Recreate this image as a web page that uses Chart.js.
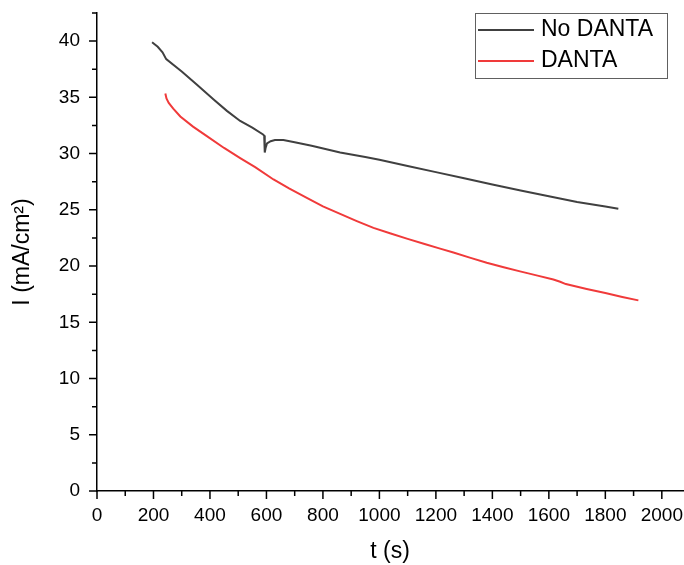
<!DOCTYPE html>
<html>
<head>
<meta charset="utf-8">
<script src="https://cdn.jsdelivr.net/npm/chart.js@4/dist/chart.umd.min.js"></script>
<style>
  body { margin: 0; background: #fff; }
  #wrap { width: 684px; height: 565px; }
</style>
</head>
<body>
<div id="wrap"><canvas id="myChart" width="684" height="565"></canvas></div>
<script>
'use strict';

// data
var seriesLabels = ['No DANTA', 'DANTA'];

var tNoDanta = [195, 215, 232, 245, 300, 350, 413, 460, 507, 550, 588, 592, 594, 597, 602, 615, 630, 660, 700, 760,
    861, 950, 1000, 1100, 1200, 1300, 1400, 1500, 1600, 1700, 1800, 1846];
var iNoDanta = [39.9, 39.5, 39.0, 38.4, 37.3, 36.2, 34.8, 33.8, 32.9, 32.3, 31.7, 31.6, 30.1, 30.5, 30.9, 31.1, 31.2, 31.2, 31.0, 30.7,
    30.1, 29.7, 29.45, 28.9, 28.35, 27.8, 27.25, 26.72, 26.2, 25.7, 25.3, 25.1];

var tDanta = [242, 246, 254, 270, 295, 340, 389, 450, 507, 560, 625, 680, 743, 800, 861, 920, 979, 1040, 1100, 1160,
    1215, 1262, 1320, 1380, 1440, 1498, 1560, 1616, 1640, 1660, 1734, 1800, 1860, 1917];
var iDanta = [35.35, 34.9, 34.5, 34.0, 33.3, 32.4, 31.55, 30.5, 29.6, 28.8, 27.7, 26.9, 26.06, 25.3, 24.64, 24.0, 23.39, 22.9, 22.42, 21.96,
    21.55, 21.2, 20.75, 20.3, 19.9, 19.53, 19.15, 18.8, 18.6, 18.4, 17.96, 17.6, 17.25, 16.95];

var xTicks = [0, 200, 400, 600, 800, 1000, 1200, 1400, 1600, 1800, 2000];
var yTicks = [0, 5, 10, 15, 20, 25, 30, 35, 40];

var lineColors = ['#404040', '#f03a3a'];

function toPoints(xs, ys) {
    var pts = [];
    for (var i = 0; i < xs.length; i++) {
        pts.push({x: xs[i], y: ys[i]});
    }
    return pts;
}

// no extra margins for the edge labels, the plot box is set by hand
function noEdgePadding(scale) {
    scale.paddingTop = 0;
    scale.paddingBottom = 0;
    scale.paddingLeft = 0;
    scale.paddingRight = 0;
}

// outward major + minor tick marks (Origin style)
var tickMarks = {
    id: 'tickMarks',
    afterDraw: function(chart) {
        var ctx = chart.ctx;
        var xs = chart.scales.x, ys = chart.scales.y;
        var bottom = chart.chartArea.bottom, left = chart.chartArea.left;
        ctx.save();
        ctx.strokeStyle = '#000';
        ctx.lineWidth = 1.5;
        ctx.beginPath();
        for (var v = 0; v <= 2000; v += 100) {
            var px = xs.getPixelForValue(v);
            var len = (v % 200 === 0) ? 8 : 5;
            ctx.moveTo(px, bottom);
            ctx.lineTo(px, bottom + len);
        }
        for (var w = 0; w <= 42.5; w += 2.5) {
            var py = ys.getPixelForValue(w);
            var l2 = (w % 5 === 0) ? 8 : 5;
            ctx.moveTo(left, py);
            ctx.lineTo(left - l2, py);
        }
        ctx.stroke();
        ctx.restore();
    }
};

// boxed legend in the top right corner
var boxLegend = {
    id: 'boxLegend',
    afterDraw: function(chart) {
        var ctx = chart.ctx;
        ctx.save();
        ctx.strokeStyle = '#606060';
        ctx.lineWidth = 1;
        ctx.strokeRect(475.5, 13.5, 192, 65);
        ctx.font = '23px "Liberation Sans", Arial, sans-serif';
        ctx.textBaseline = 'middle';
        ctx.fillStyle = '#000';
        chart.data.datasets.forEach(function(ds, i) {
            var y = 30 + i * 31;
            ctx.strokeStyle = ds.borderColor;
            ctx.lineWidth = 2;
            ctx.beginPath();
            ctx.moveTo(478, y);
            ctx.lineTo(534, y);
            ctx.stroke();
            ctx.fillText(ds.label, 541, y);
        });
        ctx.restore();
    }
};

function initChart() {
    var ctx = document.getElementById('myChart').getContext('2d');
    var tickFont = {family: '"Liberation Sans", Arial, sans-serif', size: 19};
    var titleFont = {family: '"Liberation Sans", Arial, sans-serif', size: 23, lineHeight: 1.2};

    new Chart(ctx, {
        type: 'line',
        data: {
            datasets: [
                {
                    label: seriesLabels[0],
                    data: toPoints(tNoDanta, iNoDanta),
                    borderColor: lineColors[0],
                    borderWidth: 2,
                    pointRadius: 0,
                    tension: 0,
                    fill: false
                },
                {
                    label: seriesLabels[1],
                    data: toPoints(tDanta, iDanta),
                    borderColor: lineColors[1],
                    borderWidth: 2,
                    pointRadius: 0,
                    tension: 0,
                    fill: false
                }
            ]
        },
        options: {
            responsive: false,
            animation: false,
            layout: {padding: {left: 0, top: 13, right: 1, bottom: 0}},
            plugins: {
                legend: {display: false},
                tooltip: {enabled: false}
            },
            scales: {
                x: {
                    type: 'linear',
                    min: 0,
                    max: 2075,
                    afterBuildTicks: function(scale) {
                        scale.ticks = xTicks.map(function(v) { return {value: v}; });
                    },
                    afterFit: function(scale) {
                        scale.height = 74;
                        noEdgePadding(scale);
                    },
                    grid: {display: false, drawTicks: false},
                    border: {display: true, color: '#000', width: 1.5},
                    ticks: {
                        color: '#000', font: tickFont, padding: 13, maxRotation: 0, autoSkip: false,
                        callback: function(v) { return String(v); }
                    },
                    title: {display: true, text: 't (s)', color: '#000', font: titleFont, padding: {top: 0, bottom: 0}}
                },
                y: {
                    type: 'linear',
                    min: 0,
                    max: 42.5,
                    afterBuildTicks: function(scale) {
                        scale.ticks = yTicks.map(function(v) { return {value: v}; });
                    },
                    afterFit: function(scale) {
                        scale.width = 97;
                        noEdgePadding(scale);
                    },
                    grid: {display: false, drawTicks: false},
                    border: {display: true, color: '#000', width: 1.5},
                    ticks: {
                        color: '#000', font: tickFont, padding: 17, autoSkip: false,
                        callback: function(v) { return String(v); }
                    },
                    title: {display: true, text: 'I (mA/cm²)', color: '#000', font: titleFont, padding: {top: 9, bottom: 0}}
                }
            }
        },
        plugins: [tickMarks, boxLegend]
    });
}

initChart();
</script>
</body>
</html>
